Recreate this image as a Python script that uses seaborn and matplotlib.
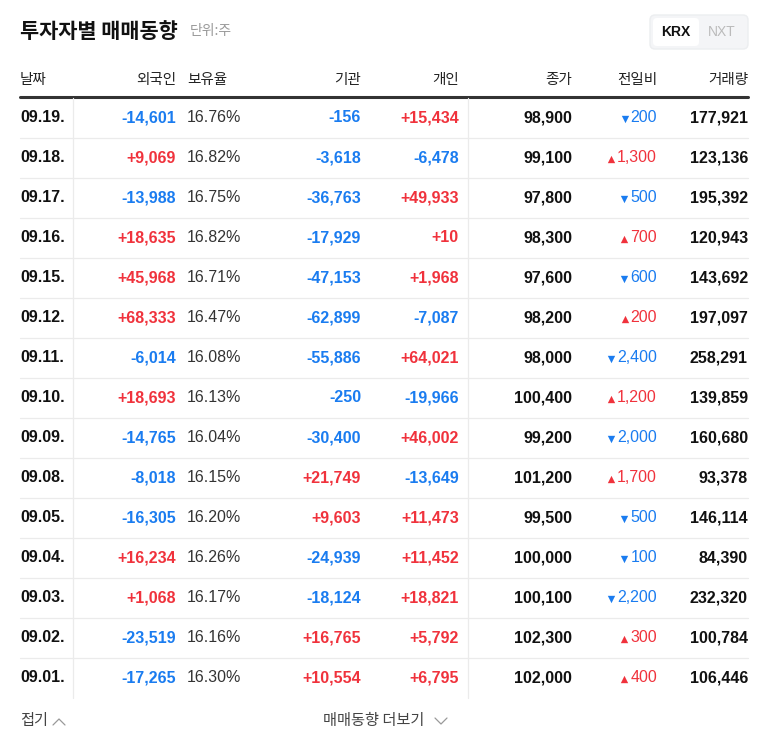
import matplotlib
matplotlib.use("Agg")
import matplotlib.pyplot as plt
import matplotlib.patches as mpatches
import seaborn as sns

# Table data (units: shares)
dates = ["09.19.", "09.18.", "09.17.", "09.16.", "09.15.", "09.12.", "09.11.", "09.10.",
         "09.09.", "09.08.", "09.05.", "09.04.", "09.03.", "09.02.", "09.01."]
foreign = [-14601, 9069, -13988, 18635, 45968, 68333, -6014, 18693,
           -14765, -8018, -16305, 16234, 1068, -23519, -17265]
holding = [16.76, 16.82, 16.75, 16.82, 16.71, 16.47, 16.08, 16.13,
           16.04, 16.15, 16.20, 16.26, 16.17, 16.16, 16.30]
institution = [-156, -3618, -36763, -17929, -47153, -62899, -55886, -250,
               -30400, 21749, 9603, -24939, -18124, 16765, 10554]
individual = [15434, -6478, 49933, 10, 1968, -7087, 64021, -19966,
              46002, -13649, 11473, 11452, 18821, 5792, 6795]
close = [98900, 99100, 97800, 98300, 97600, 98200, 98000, 100400,
         99200, 101200, 99500, 100000, 100100, 102300, 102000]
change = [-200, 1300, -500, 700, -600, 200, -2400, 1200,
          -2000, 1700, -500, -100, -2200, 300, 400]
volume = [177921, 123136, 195392, 120943, 143692, 197097, 258291, 139859,
          160680, 93378, 146114, 84390, 232320, 100784, 106446]

headers = ["날짜", "외국인", "보유율", "기관", "개인", "종가", "전일비", "거래량"]

RED = "#f0323c"
BLUE = "#1a7cf0"
DARK = "#111111"
KR = ["Noto Sans CJK KR", "Noto Sans CJK JP", "Noto Sans CJK SC", "DejaVu Sans"]
NUM = "Liberation Sans"

sns.set_theme(style="white")
plt.rcParams["font.family"] = KR


def signed(v):
    return f"{v:+,}"


def col(v):
    return RED if v > 0 else BLUE


fig = plt.figure(figsize=(7.68, 7.49), dpi=100)
ax = fig.add_axes([0, 0, 1, 1])
ax.set_xlim(0, 768)
ax.set_ylim(749, 0)
ax.axis("off")

# title
ax.text(20, 31, "투자자별 매매동향", fontsize=15, fontweight="bold", color="#111", va="center", family=KR)
ax.text(190, 31, "단위:주", fontsize=10, color="#999", va="center", family=KR)

# KRX / NXT toggle
ax.add_patch(mpatches.FancyBboxPatch((650, 15), 98, 34, boxstyle="round,pad=0,rounding_size=5",
                                     fc="#f4f5f7", ec="#eceef0"))
ax.add_patch(mpatches.FancyBboxPatch((653, 18), 46, 28, boxstyle="round,pad=0,rounding_size=4",
                                     fc="white", ec="none"))
ax.text(676, 32, "KRX", fontsize=10, fontweight="bold", color="#111", ha="center", va="center", family=NUM)
ax.text(722, 32, "NXT", fontsize=10, color="#bbb", ha="center", va="center", family=NUM)

# header
hx = [20, 176, 187, 361, 459, 572, 657, 748]
ha = ["left", "right", "left", "right", "right", "right", "right", "right"]
for x, h, a in zip(hx, headers, ha):
    ax.text(x, 80, h, fontsize=10.5, color="#222", ha=a, va="center", family=KR)
ax.plot([20, 748], [97, 97], color="#333", lw=2.2)

n = len(dates)
y0, step = 118, 40
arrows = []
for i in range(n):
    y = y0 + i * step
    if i < n - 1:
        ax.plot([20, 748], [y + 20, y + 20], color="#ebebeb", lw=0.9)
    kw = dict(fontsize=11.5, va="center", family=NUM)
    ax.text(20, y, dates[i], color=DARK, fontweight="bold", ha="left", **kw)
    ax.text(176, y, signed(foreign[i]), color=col(foreign[i]), fontweight="bold", ha="right", **kw)
    ax.text(187, y, f"{holding[i]:.2f}%", color="#333", ha="left", **kw)
    ax.text(361, y, signed(institution[i]), color=col(institution[i]), fontweight="bold", ha="right", **kw)
    ax.text(459, y, signed(individual[i]), color=col(individual[i]), fontweight="bold", ha="right", **kw)
    ax.text(572, y, f"{close[i]:,}", color=DARK, fontweight="bold", ha="right", **kw)
    c = col(change[i])
    t = ax.text(657, y, f"{abs(change[i]):,}", color=c, ha="right", **kw)
    arrows.append((t, "^" if change[i] > 0 else "v", c, y))
    ax.text(748, y, f"{volume[i]:,}", color=DARK, fontweight="bold", ha="right", **kw)

# vertical dividers
top, bottom = 98, y0 + (n - 1) * step + 20
ax.plot([73, 73], [top, bottom], color="#ebebeb", lw=0.9)
ax.plot([468, 468], [top, bottom], color="#ebebeb", lw=0.9)

# place arrows left of change numbers
fig.canvas.draw()
r = fig.canvas.get_renderer()
inv = ax.transData.inverted()
for t, m, c, y in arrows:
    bb = t.get_window_extent(r)
    xl = inv.transform((bb.x0, bb.y0))[0]
    ax.scatter([xl - 6], [y + 0.5], marker=m, s=28, color=c, linewidths=0)

# footer
ax.text(20, 720, "접기", fontsize=11, color="#444", va="center", family=KR)
ax.plot([53, 59, 65], [725, 719, 725], color="#999", lw=0.9)
ax.text(323, 720, "매매동향 더보기", fontsize=11, color="#444", va="center", family=KR)
ax.plot([435, 441, 447], [718, 724, 718], color="#999", lw=0.9)

fig.savefig("out.png", dpi=100)
